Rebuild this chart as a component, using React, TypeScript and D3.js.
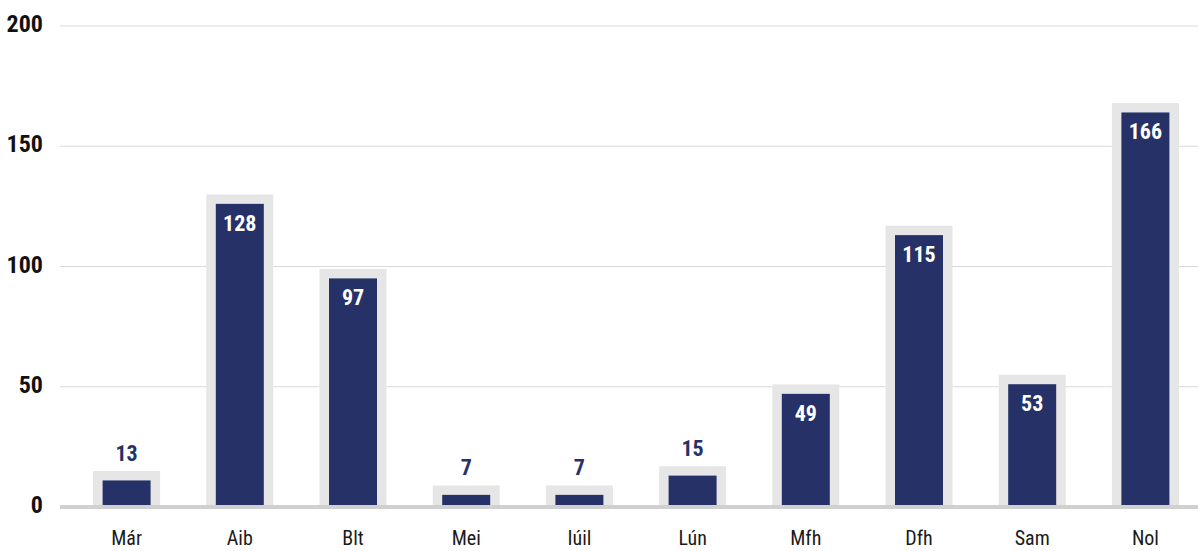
import React from 'react';
import * as d3 from 'd3';

const months = ['Már', 'Aib', 'Blt', 'Mei', 'Iúil', 'Lún', 'Mfh', 'Dfh', 'Sam', 'Nol'];
const counts = [13, 128, 97, 7, 7, 15, 49, 115, 53, 166];
const yTicks = [0, 50, 100, 150, 200];

const W = 1198;
const H = 551;
const NAVY = '#263167';
const PAD = '#e6e6e6';
const FONT = "'Roboto Condensed', 'Liberation Sans Narrow', 'DejaVu Sans Condensed', sans-serif";

export default function App() {
  const x = d3.scaleBand<string>().domain(months).range([70, 1202]);
  const y = d3.scaleLinear().domain([0, 200]).range([507, 26]);
  const cx = (m: string) => (x(m) as number) + x.bandwidth() / 2;

  // the gray pad sticks out ~4.7px around the value, the navy bar sits inside it
  const inset = 4.7;

  return (
    <svg width={W} height={H} style={{ position: 'absolute', left: 0, top: 0, fontFamily: FONT }}>
      {/* gridlines */}
      {yTicks.filter(t => t > 0).map(t => (
        <line key={t} x1={60} x2={W} y1={y(t)} y2={y(t)} stroke="#d9d9d9" strokeWidth={1} />
      ))}
      {yTicks.map(t => (
        <text key={'t' + t} x={43} y={y(t) + 6} textAnchor="end" fontSize={24} fontWeight="bold" fill="#111">
          {t}
        </text>
      ))}

      {months.map((m, i) => {
        const v = counts[i];
        const c = cx(m);
        const top = y(v);
        const inside = v >= 30;
        return (
          <g key={m}>
            <rect x={c - 33.5} width={67} y={top - inset} height={y(0) - top + inset} fill={PAD} />
            <rect x={c - 24} width={48} y={top + inset} height={Math.max(0, y(0) - top - inset)} fill={NAVY} />
            <text
              x={c}
              y={inside ? top + 31.5 : top - 15}
              textAnchor="middle"
              fontSize={22}
              fontWeight="bold"
              fill={inside ? '#fff' : NAVY}
            >
              {v}
            </text>
            <text x={c} y={545} textAnchor="middle" fontSize={20} fill="#1a1a1a">
              {m}
            </text>
          </g>
        );
      })}

      {/* baseline */}
      <line x1={60} x2={W} y1={y(0)} y2={y(0)} stroke="#d0d0d0" strokeWidth={4} />
    </svg>
  );
}
